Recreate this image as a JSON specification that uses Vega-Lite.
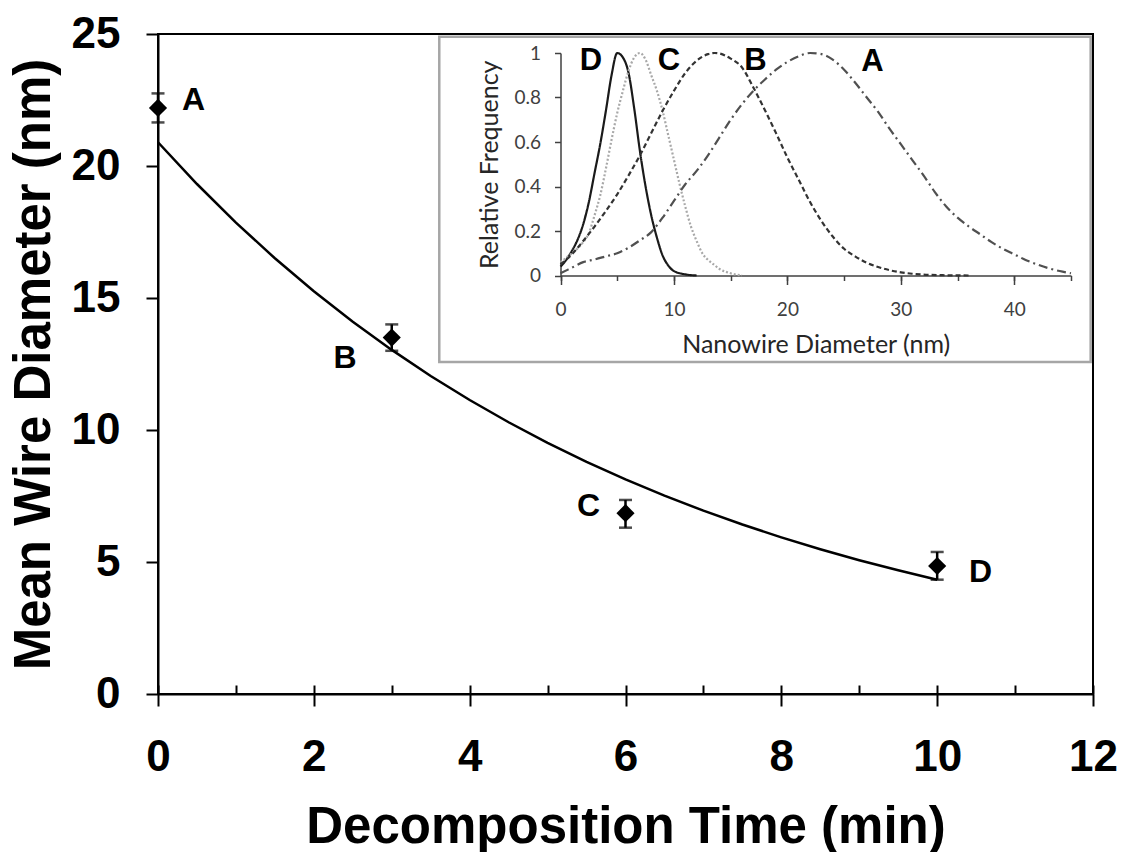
{
  "$schema": "https://vega.github.io/schema/vega-lite/v6.json",
  "width": 935,
  "height": 660,
  "autosize": {"type": "none"},
  "padding": {"left": 158, "top": 34, "right": 30, "bottom": 158},
  "config": {
    "font": "Liberation Sans",
    "view": {"stroke": "black", "strokeWidth": 2},
    "axis": {"grid": false, "labelOverlap": false, "labelFlush": false}
  },
  "datasets": {
    "fit": [
      {"t": 0, "d": 20.9}, {"t": 0.5, "d": 19.318}, {"t": 1, "d": 17.856}, {"t": 1.5, "d": 16.505},
      {"t": 2, "d": 15.256}, {"t": 2.5, "d": 14.101}, {"t": 3, "d": 13.034}, {"t": 3.5, "d": 12.047},
      {"t": 4, "d": 11.136}, {"t": 4.5, "d": 10.293}, {"t": 5, "d": 9.514}, {"t": 5.5, "d": 8.794},
      {"t": 6, "d": 8.129}, {"t": 6.5, "d": 7.514}, {"t": 7, "d": 6.945}, {"t": 7.5, "d": 6.419},
      {"t": 8, "d": 5.934}, {"t": 8.5, "d": 5.484}, {"t": 9, "d": 5.069}, {"t": 9.5, "d": 4.686},
      {"t": 10, "d": 4.331}
    ],
    "pts": [
      {"t": 0, "d": 22.2, "lo": 21.65, "hi": 22.75, "label": "A", "lx": 0.456, "ly": 22.51},
      {"t": 3, "d": 13.5, "lo": 13.0, "hi": 14.0, "label": "B", "lx": 2.4, "ly": 12.72},
      {"t": 6, "d": 6.85, "lo": 6.3, "hi": 7.35, "label": "C", "lx": 5.525, "ly": 7.14},
      {"t": 10, "d": 4.85, "lo": 4.33, "hi": 5.38, "label": "D", "lx": 10.556, "ly": 4.61}
    ],
    "box": [{"x": 3.61, "x2": 11.97, "y": 24.9, "y2": 12.58}],
    "dist": [
      {"s": "D", "x": 0, "f": 0.04}, {"s": "D", "x": 0.5, "f": 0.07}, {"s": "D", "x": 1, "f": 0.11},
      {"s": "D", "x": 1.5, "f": 0.16}, {"s": "D", "x": 2, "f": 0.23}, {"s": "D", "x": 2.5, "f": 0.33},
      {"s": "D", "x": 3, "f": 0.46}, {"s": "D", "x": 3.5, "f": 0.59}, {"s": "D", "x": 4, "f": 0.74},
      {"s": "D", "x": 4.5, "f": 0.9}, {"s": "D", "x": 5, "f": 1.0}, {"s": "D", "x": 5.5, "f": 0.98},
      {"s": "D", "x": 6, "f": 0.91}, {"s": "D", "x": 6.5, "f": 0.75}, {"s": "D", "x": 7, "f": 0.56},
      {"s": "D", "x": 7.5, "f": 0.4}, {"s": "D", "x": 8, "f": 0.27}, {"s": "D", "x": 8.5, "f": 0.17},
      {"s": "D", "x": 9, "f": 0.09}, {"s": "D", "x": 9.5, "f": 0.045}, {"s": "D", "x": 10, "f": 0.02},
      {"s": "D", "x": 11, "f": 0.005}, {"s": "D", "x": 12, "f": 0},
      {"s": "C", "x": 0, "f": 0.06}, {"s": "C", "x": 1, "f": 0.1}, {"s": "C", "x": 2, "f": 0.15},
      {"s": "C", "x": 2.5, "f": 0.19}, {"s": "C", "x": 3, "f": 0.27}, {"s": "C", "x": 3.5, "f": 0.36},
      {"s": "C", "x": 4, "f": 0.48}, {"s": "C", "x": 4.5, "f": 0.61}, {"s": "C", "x": 5, "f": 0.73},
      {"s": "C", "x": 5.5, "f": 0.83}, {"s": "C", "x": 6, "f": 0.92}, {"s": "C", "x": 6.5, "f": 0.98},
      {"s": "C", "x": 7, "f": 1.0}, {"s": "C", "x": 7.5, "f": 0.97}, {"s": "C", "x": 8, "f": 0.9},
      {"s": "C", "x": 8.5, "f": 0.83}, {"s": "C", "x": 9, "f": 0.74}, {"s": "C", "x": 9.5, "f": 0.63},
      {"s": "C", "x": 10, "f": 0.52}, {"s": "C", "x": 10.5, "f": 0.41}, {"s": "C", "x": 11, "f": 0.31},
      {"s": "C", "x": 11.5, "f": 0.22}, {"s": "C", "x": 12, "f": 0.155}, {"s": "C", "x": 12.5, "f": 0.1},
      {"s": "C", "x": 13, "f": 0.07}, {"s": "C", "x": 13.5, "f": 0.05}, {"s": "C", "x": 14, "f": 0.03},
      {"s": "C", "x": 15, "f": 0.01}, {"s": "C", "x": 16, "f": 0},
      {"s": "B", "x": 0, "f": 0.05}, {"s": "B", "x": 1, "f": 0.095}, {"s": "B", "x": 2, "f": 0.155},
      {"s": "B", "x": 3, "f": 0.22}, {"s": "B", "x": 4, "f": 0.29}, {"s": "B", "x": 5, "f": 0.365},
      {"s": "B", "x": 6, "f": 0.45}, {"s": "B", "x": 7, "f": 0.54}, {"s": "B", "x": 8, "f": 0.64},
      {"s": "B", "x": 9, "f": 0.74}, {"s": "B", "x": 10, "f": 0.83}, {"s": "B", "x": 11, "f": 0.91},
      {"s": "B", "x": 12, "f": 0.965}, {"s": "B", "x": 13, "f": 0.995}, {"s": "B", "x": 13.6, "f": 1.0},
      {"s": "B", "x": 14, "f": 0.998}, {"s": "B", "x": 15, "f": 0.975}, {"s": "B", "x": 16, "f": 0.935},
      {"s": "B", "x": 17, "f": 0.845}, {"s": "B", "x": 18, "f": 0.745}, {"s": "B", "x": 19, "f": 0.64},
      {"s": "B", "x": 20, "f": 0.53}, {"s": "B", "x": 21, "f": 0.43}, {"s": "B", "x": 22, "f": 0.33},
      {"s": "B", "x": 23, "f": 0.245}, {"s": "B", "x": 24, "f": 0.175}, {"s": "B", "x": 25, "f": 0.12},
      {"s": "B", "x": 26, "f": 0.085}, {"s": "B", "x": 27, "f": 0.057}, {"s": "B", "x": 28, "f": 0.038},
      {"s": "B", "x": 29, "f": 0.024}, {"s": "B", "x": 30, "f": 0.014}, {"s": "B", "x": 31, "f": 0.008},
      {"s": "B", "x": 32, "f": 0.004}, {"s": "B", "x": 34, "f": 0.001}, {"s": "B", "x": 36, "f": 0},
      {"s": "A", "x": 0, "f": 0.01}, {"s": "A", "x": 1, "f": 0.035}, {"s": "A", "x": 2, "f": 0.06},
      {"s": "A", "x": 3, "f": 0.072}, {"s": "A", "x": 4, "f": 0.086}, {"s": "A", "x": 5, "f": 0.1},
      {"s": "A", "x": 6, "f": 0.125}, {"s": "A", "x": 7, "f": 0.158}, {"s": "A", "x": 8, "f": 0.195},
      {"s": "A", "x": 9, "f": 0.26}, {"s": "A", "x": 10, "f": 0.335}, {"s": "A", "x": 11, "f": 0.41},
      {"s": "A", "x": 12, "f": 0.47}, {"s": "A", "x": 13, "f": 0.54}, {"s": "A", "x": 14, "f": 0.62},
      {"s": "A", "x": 15, "f": 0.7}, {"s": "A", "x": 16, "f": 0.77}, {"s": "A", "x": 17, "f": 0.83},
      {"s": "A", "x": 18, "f": 0.88}, {"s": "A", "x": 19, "f": 0.925}, {"s": "A", "x": 20, "f": 0.96},
      {"s": "A", "x": 21, "f": 0.985}, {"s": "A", "x": 22, "f": 1.0}, {"s": "A", "x": 23, "f": 0.995},
      {"s": "A", "x": 24, "f": 0.97}, {"s": "A", "x": 25, "f": 0.925}, {"s": "A", "x": 26, "f": 0.865},
      {"s": "A", "x": 27, "f": 0.8}, {"s": "A", "x": 28, "f": 0.735}, {"s": "A", "x": 29, "f": 0.66},
      {"s": "A", "x": 30, "f": 0.59}, {"s": "A", "x": 31, "f": 0.52}, {"s": "A", "x": 32, "f": 0.45},
      {"s": "A", "x": 33, "f": 0.375}, {"s": "A", "x": 34, "f": 0.31}, {"s": "A", "x": 35, "f": 0.26},
      {"s": "A", "x": 36, "f": 0.22}, {"s": "A", "x": 37, "f": 0.185}, {"s": "A", "x": 38, "f": 0.15},
      {"s": "A", "x": 39, "f": 0.12}, {"s": "A", "x": 40, "f": 0.095}, {"s": "A", "x": 41, "f": 0.07},
      {"s": "A", "x": 42, "f": 0.05}, {"s": "A", "x": 43, "f": 0.033}, {"s": "A", "x": 44, "f": 0.02},
      {"s": "A", "x": 45, "f": 0.01}
    ],
    "distLabels": [
      {"s": "D", "lx": 2.69, "ly": 0.963},
      {"s": "C", "lx": 9.56, "ly": 0.966},
      {"s": "B", "lx": 17.18, "ly": 0.966},
      {"s": "A", "lx": 27.5, "ly": 0.959}
    ]
  },
  "layer": [
    {
      "layer": [
        {
          "data": {"name": "box"},
          "mark": {"type": "rect", "fillOpacity": 0, "stroke": "#a6a6a6", "strokeWidth": 2.5},
          "encoding": {
            "x": {"field": "x", "type": "quantitative", "scale": {"domain": [0, 12], "nice": false},
              "axis": {"orient": "bottom", "values": [0,1,2,3,4,5,6,7,8,9,10,11,12], "tickSize": -9, "labels": false, "domain": false, "title": null, "tickColor": "black", "tickWidth": 2}},
            "x2": {"field": "x2"},
            "y": {"field": "y", "type": "quantitative", "axis": null},
            "y2": {"field": "y2"}
          }
        },
        {
          "data": {"name": "fit"},
          "mark": {"type": "line", "color": "black", "strokeWidth": 2.5},
          "encoding": {
            "x": {"field": "t", "type": "quantitative", "scale": {"domain": [0, 12], "nice": false},
              "axis": {"orient": "bottom", "values": [0,2,4,6,8,10,12], "tickSize": 12, "tickColor": "black", "tickWidth": 2,
                "domainColor": "black", "domainWidth": 2, "labelPadding": 29, "labelFontSize": 44, "labelFontWeight": "bold", "labelColor": "black",
                "title": "Decomposition Time (min)", "titleFontSize": 51, "titleFontWeight": "bold", "titleColor": "black", "titlePadding": 23}},
            "y": {"field": "d", "type": "quantitative", "scale": {"domain": [0, 25], "nice": false},
              "axis": {"orient": "left", "values": [0,5,10,15,20,25], "tickSize": 12, "tickColor": "black", "tickWidth": 2,
                "domainColor": "black", "domainWidth": 2, "labelPadding": 26, "labelFontSize": 44, "labelFontWeight": "bold", "labelColor": "black",
                "title": "Mean Wire Diameter (nm)", "titleFontSize": 51, "titleFontWeight": "bold", "titleColor": "black", "titlePadding": 11}}
          }
        },
        {
          "data": {"name": "pts"},
          "mark": {"type": "errorbar", "color": "black", "thickness": 2.5, "ticks": {"size": 13}},
          "encoding": {
            "x": {"field": "t", "type": "quantitative", "axis": null},
            "y": {"field": "lo", "type": "quantitative", "axis": null},
            "y2": {"field": "hi"}
          }
        },
        {
          "data": {"name": "pts"},
          "mark": {"type": "point", "shape": "diamond", "filled": true, "color": "black", "size": 330, "opacity": 1},
          "encoding": {
            "x": {"field": "t", "type": "quantitative", "axis": null},
            "y": {"field": "d", "type": "quantitative", "axis": null}
          }
        },
        {
          "data": {"name": "pts"},
          "mark": {"type": "text", "fontWeight": "bold", "fontSize": 32, "color": "black", "align": "center", "baseline": "middle"},
          "encoding": {
            "x": {"field": "lx", "type": "quantitative", "axis": null},
            "y": {"field": "ly", "type": "quantitative", "axis": null},
            "text": {"field": "label"}
          }
        }
      ],
      "resolve": {"axis": {"x": "independent", "y": "independent"}}
    },
    {
      "layer": [
        {
          "data": {"name": "dist"},
          "mark": {"type": "line", "strokeWidth": 2.2, "interpolate": "monotone"},
          "encoding": {
            "x": {"field": "x", "type": "quantitative", "scale": {"domain": [0, 45], "range": [402.5, 913], "nice": false},
              "axis": {"orient": "bottom", "offset": -418.5, "values": [0,10,20,30,40], "tickSize": 9, "tickColor": "#404040", "tickWidth": 1.5,
                "domainColor": "#404040", "domainWidth": 1.5, "labelPadding": 16, "labelFont": "Lato", "labelFontSize": 19, "labelColor": "#404040",
                "title": "Nanowire Diameter (nm)", "titleFont": "Lato", "titleFontSize": 25, "titleFontWeight": "normal", "titleColor": "#262626", "titlePadding": 13}},
            "y": {"field": "f", "type": "quantitative", "scale": {"domain": [0, 1], "range": [241.5, 19], "nice": false},
              "axis": {"orient": "left", "offset": -402.5, "values": [0,0.2,0.4,0.6,0.8,1], "format": "~g", "tickSize": 6, "tickColor": "#404040", "tickWidth": 1.5,
                "domainColor": "#404040", "domainWidth": 1.5, "labelPadding": 14, "labelFont": "Lato", "labelFontSize": 19, "labelColor": "#404040",
                "title": "Relative Frequency", "titleFont": "Lato", "titleFontSize": 25, "titleFontWeight": "normal", "titleColor": "#262626", "titlePadding": 11}},
            "color": {"field": "s", "type": "nominal", "scale": {"domain": ["A","B","C","D"], "range": ["#505050","#333333","#a8a8a8","#1a1a1a"]}, "legend": null},
            "strokeDash": {"field": "s", "type": "nominal", "scale": {"domain": ["A","B","C","D"], "range": [[9,4,2,4],[5,3],[2,2],[1,0]]}, "legend": null}
          }
        },
        {
          "data": {"name": "distLabels"},
          "mark": {"type": "text", "fontWeight": "bold", "fontSize": 31, "color": "black", "align": "center", "baseline": "middle"},
          "encoding": {
            "x": {"field": "lx", "type": "quantitative",
              "axis": {"orient": "bottom", "offset": -418.5, "values": [0,5,10,15,20,25,30,35,40,45], "tickSize": 5, "labels": false, "domain": false, "title": null, "tickColor": "#404040", "tickWidth": 1.5}},
            "y": {"field": "ly", "type": "quantitative", "axis": null},
            "text": {"field": "s"}
          }
        }
      ],
      "resolve": {"axis": {"x": "independent", "y": "independent"}}
    }
  ],
  "resolve": {"scale": {"x": "independent", "y": "independent"}}
}
